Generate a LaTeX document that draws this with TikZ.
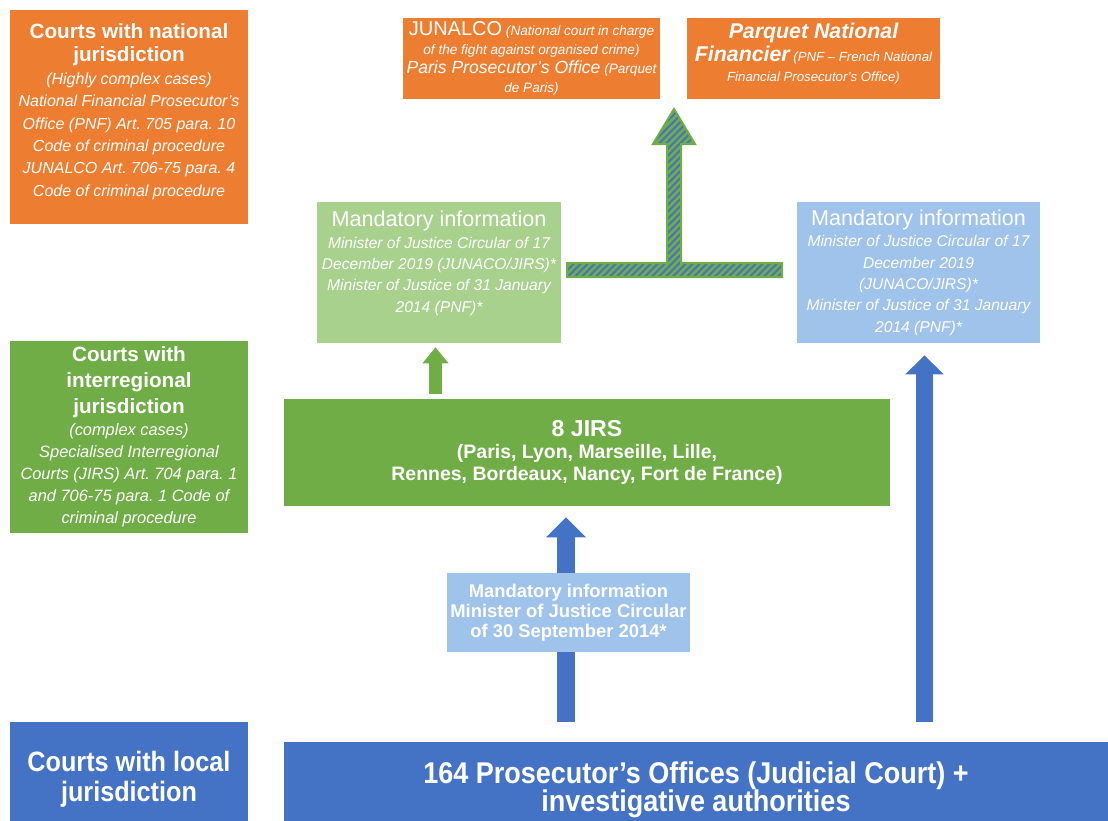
\documentclass[tikz,border=0pt]{standalone}
\usepackage{fontspec}
\setmainfont{Liberation Sans}
\newfontfamily\narrowfont[FakeStretch=0.9,Ligatures=TeX]{Liberation Sans}
\usetikzlibrary{arrows.meta}
\definecolor{orangec}{HTML}{ED7D31}
\definecolor{greenc}{HTML}{70AD47}
\definecolor{lgreenc}{HTML}{A9D18E}
\definecolor{bluec}{HTML}{4472C4}
\definecolor{lbluec}{HTML}{9FC3EA}
\frenchspacing
\newcommand{\fsz}[2]{\fontsize{#1}{#2}\selectfont}
\newcommand{\ttl}[1]{{\fsz{15.5}{18}\bfseries\upshape #1}}
\begin{document}
\begin{tikzpicture}[x=0.75pt,y=-0.75pt,
    court/.style={inner sep=0pt,align=center,text=white},
    boxsize/.style 2 args={minimum width=#1*0.75pt,minimum height=#2*0.75pt},
    blockarrow/.style={draw=#1,-{Triangle[width=29pt,length=15pt]}}]
    \useasboundingbox (0,0) rectangle (1108,821);
    % national level
    \node[court,fill=orangec,boxsize={238}{214},font=\fsz{12}{16.8}\itshape] (national) at (129,117)
        {\ttl{Courts with national}\\[1pt] \ttl{jurisdiction}\\ (Highly complex cases)\\ National Financial Prosecutor's\\ Office (PNF) Art. 705 para. 10\\ Code of criminal procedure\\ JUNALCO Art. 706-75 para. 4\\ Code of criminal procedure\\[-6pt]};
    \node[court,fill=orangec,boxsize={257}{81},font=\fsz{10.2}{14.3}\itshape] (junalco) at (531.5,58.5)
        {{\fsz{15}{14}\upshape JUNALCO} (National court in charge\\ of the fight against organised crime)\\ {\fsz{13.2}{14}Paris Prosecutor's Office} (Parquet\\ de Paris)};
    \node[court,fill=orangec,boxsize={253}{81},font=\fsz{9.9}{15}\itshape] (pnf) at (813.5,58.5)
        {{\fsz{16}{16}\bfseries Parquet National}\\[2pt] {\fsz{16}{16}\bfseries Financier} (PNF -- French National\\ Financial Prosecutor's Office)\\[-6pt]};
    % mandatory information
    \node[court,fill=lgreenc,boxsize={244}{141},font=\fsz{11.7}{16}\itshape] (greeninfo) at (439,272.5)
        {{\fsz{16.2}{16}\upshape Mandatory information}\\ Minister of Justice Circular of 17\\ December 2019 (JUNACO/JIRS)*\\ Minister of Justice of 31 January\\ 2014 (PNF)*\\[0pt]};
    \node[court,fill=lbluec,boxsize={243}{141},font=\fsz{11.7}{16}\itshape] (blueinfo) at (918.5,272.5)
        {{\fsz{16.2}{16}\upshape Mandatory information}\\ Minister of Justice Circular of 17\\ December 2019\\ (JUNACO/JIRS)*\\ Minister of Justice of 31 January\\ 2014 (PNF)*};
    % interregional level
    \node[court,fill=greenc,boxsize={238}{192},font=\fsz{12.3}{16.5}\itshape] (interreg) at (129,437)
        {\ttl{Courts with}\\[3pt] \ttl{interregional}\\[3pt] \ttl{jurisdiction}\\ (complex cases)\\ Specialised Interregional\\ Courts (JIRS) Art. 704 para. 1\\ and 706-75 para. 1 Code of\\ criminal procedure};
    \node[court,fill=greenc,boxsize={606}{107},font=\fsz{14.6}{16.5}\bfseries] (jirs) at (587,452.5)
        {{\fsz{17.3}{16.5}8 JIRS}\\ (Paris, Lyon, Marseille, Lille,\\ Rennes, Bordeaux, Nancy, Fort de France)};
    % local level
    \node[court,fill=bluec,boxsize={238}{99},font=\narrowfont\fsz{21}{22.5}\bfseries] (local) at (129,771.5)
        {\rule{0pt}{27pt}Courts with local\\ jurisdiction};
    \node[court,fill=bluec,boxsize={824}{79},font=\narrowfont\fsz{22.5}{21}\bfseries] (offices) at (696,781.5)
        {\rule{0pt}{28.5pt}164 Prosecutor's Offices (Judicial Court) +\\ investigative authorities};
    % arrows
    \coordinate (midfoot) at (566,722);
    \coordinate (rightfoot) at (924.5,722);
    \coordinate (greenfoot) at (435.5,399);
    \draw[blockarrow=bluec,line width=13.5pt,shorten >=8.25pt] (midfoot) -- (midfoot |- jirs.south);
    \draw[blockarrow=bluec,line width=12.75pt,shorten >=9pt,-{Triangle[width=27.75pt,length=14.25pt]}] (rightfoot) -- (rightfoot |- blueinfo.south);
    \draw[blockarrow=greenc,line width=9.75pt,shorten <=3.75pt,shorten >=3pt,-{Triangle[width=18.75pt,length=12pt]}] (greenfoot) -- (greenfoot |- greeninfo.south);
    \node[court,fill=lbluec,boxsize={243}{79},font=\fsz{13.8}{15}\bfseries] (smallinfo) at (568.5,612.5)
        {Mandatory information\\ Minister of Justice Circular\\ of 30 September 2014*};
    % hatched T arrow
    \def\tarrow{(567,277) -- (782,277) -- (782,263) -- (681,263) -- (681,144) -- (695,144) -- (674,109)
        -- (653,144) -- (667,144) -- (667,263) -- (567,263) -- cycle}
    \begin{scope}
        \clip \tarrow;
        \fill[bluec] (560,100) rectangle (790,285);
        \foreach \i in {360,367,...,790}
            \draw[greenc,line width=1.9pt] (\i,285) -- ++(200,-200);
    \end{scope}
    \draw[greenc,line width=1.5pt,line join=miter] \tarrow;
\end{tikzpicture}
\end{document}
